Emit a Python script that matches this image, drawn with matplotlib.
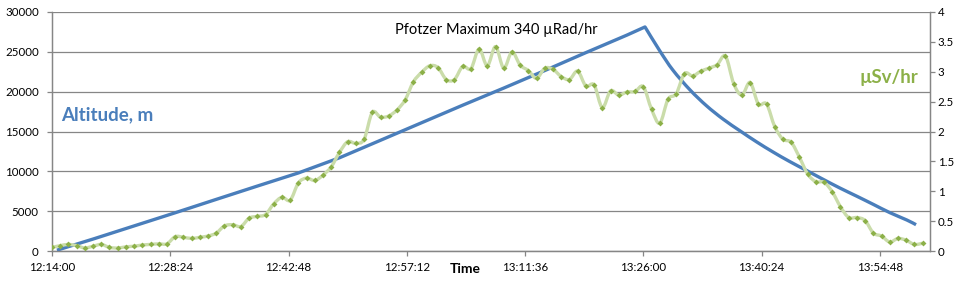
import matplotlib
matplotlib.use("Agg")
import matplotlib.pyplot as plt
from matplotlib.path import Path
from matplotlib.patches import PathPatch

plt.rcParams['font.family'] = ['Lato', 'DejaVu Sans']

# ---- data ----
# x: minutes after 12:14:00
tick_labels = ["12:14:00", "12:28:24", "12:42:48", "12:57:12", "13:11:36", "13:26:00", "13:40:24", "13:54:48"]
tick_minutes = [0, 14.4, 28.8, 43.2, 57.6, 72.0, 86.4, 100.8]

# ascent (balloon rising)
ascent_minutes = [0.6, 5, 10, 15, 20, 25, 30, 35, 40, 45, 50, 55, 60, 65, 70, 72.2]
ascent_alt_m = [100, 1500, 3150, 4800, 6480, 8150, 9800, 11700, 13900, 16100, 18300,
                20450, 22650, 24900, 27100, 28125]
# descent (after burst)
descent_minutes = [72.2, 74.0, 75.6, 77.7, 79.7, 81.7, 83.8, 85.8, 87.8, 89.8, 91.9,
                   93.9, 95.9, 98.0, 100.0, 102.0, 104.1, 105.2]
descent_alt_m = [28125, 25125, 22700, 20200, 18220, 16560, 15060, 13690, 12420, 11240,
                 10090, 8990, 7920, 6870, 5850, 4820, 3880, 3300]

rad_minutes = list(range(107))
rad_usv = [0.06, 0.09, 0.11, 0.09, 0.05, 0.08, 0.11, 0.06, 0.05, 0.07,
           0.08, 0.10, 0.11, 0.12, 0.12, 0.24, 0.23, 0.21, 0.23, 0.25,
           0.30, 0.42, 0.44, 0.41, 0.55, 0.58, 0.61, 0.79, 0.90, 0.85,
           1.14, 1.22, 1.18, 1.27, 1.41, 1.65, 1.83, 1.80, 1.87, 2.32,
           2.24, 2.26, 2.36, 2.53, 2.83, 2.99, 3.10, 3.07, 2.87, 2.87,
           3.09, 3.05, 3.38, 3.10, 3.42, 3.06, 3.33, 3.11, 3.02, 2.89,
           3.06, 3.04, 2.92, 2.87, 3.01, 2.76, 2.78, 2.40, 2.68, 2.61,
           2.66, 2.67, 2.75, 2.37, 2.14, 2.54, 2.63, 2.97, 2.93, 3.01,
           3.06, 3.12, 3.26, 2.80, 2.61, 2.82, 2.46, 2.46, 2.08, 1.87,
           1.82, 1.57, 1.29, 1.16, 1.15, 0.99, 0.74, 0.56, 0.56, 0.51,
           0.30, 0.25, 0.15, 0.21, 0.18, 0.11, 0.13]

left_ticks = [0, 5000, 10000, 15000, 20000, 25000, 30000]
right_ticks = [0, 0.5, 1, 1.5, 2, 2.5, 3, 3.5, 4]
right_labels = ["0", "0.5", "1", "1.5", "2", "2.5", "3", "3.5", "4"]

BLUE = "#4a7ebb"
GREEN = "#8cb048"
GREEN_LIGHT = "#cadcaa"
GRAY = "#868686"


def smooth_verts(xs, ys):
    n = len(xs)
    verts = [(xs[0], ys[0])]
    codes = [Path.MOVETO]
    for i in range(n - 1):
        p0 = i - 1 if i > 0 else i
        p3 = i + 2 if i + 2 < n else i + 1
        c1 = (xs[i] + (xs[i + 1] - xs[p0]) / 6.0, ys[i] + (ys[i + 1] - ys[p0]) / 6.0)
        c2 = (xs[i + 1] - (xs[p3] - xs[i]) / 6.0, ys[i + 1] - (ys[p3] - ys[i]) / 6.0)
        verts += [c1, c2, (xs[i + 1], ys[i + 1])]
        codes += [Path.CURVE4] * 3
    return verts, codes


fig = plt.figure(figsize=(9.66, 2.83), dpi=100)
ax = fig.add_axes([52 / 966, 1 - 251 / 283, (930 - 52) / 966, (251 - 12) / 283])
ax2 = ax.twinx()

ax.set_xlim(0, 106.9)
ax.set_ylim(0, 30000)
ax2.set_ylim(0, 4)

ax.set_yticks(left_ticks)
ax.set_yticklabels([str(v) for v in left_ticks])
ax.yaxis.grid(True, color=GRAY, linewidth=0.9)
ax.set_axisbelow(True)
ax.set_xticks(tick_minutes)
ax.set_xticklabels(tick_labels)

ax2.set_yticks(right_ticks)
ax2.set_yticklabels(right_labels)

for a in (ax, ax2):
    a.spines["top"].set_visible(False)
    for s in ("left", "right", "bottom"):
        a.spines[s].set_color(GRAY)
        a.spines[s].set_linewidth(0.9)
    a.tick_params(colors=GRAY, labelcolor="black", labelsize=8.3, length=3.5, width=0.9)
ax.tick_params(axis="y", pad=6)
ax.tick_params(axis="x", pad=4.5)
ax2.tick_params(axis="y", pad=2)

# altitude (blue): straight ascent, smooth descent
av, ac = smooth_verts(descent_minutes, descent_alt_m)
asc_verts = list(zip(ascent_minutes, ascent_alt_m))
verts = asc_verts + av[1:]
codes = [Path.MOVETO] + [Path.LINETO] * (len(asc_verts) - 1) + ac[1:]
ax.add_patch(PathPatch(Path(verts, codes), facecolor="none", edgecolor=BLUE,
                       linewidth=2.4, capstyle="butt", joinstyle="round", zorder=3))

# radiation (green, smoothed)
gv, gc = smooth_verts(rad_minutes, rad_usv)
ax2.add_patch(PathPatch(Path(gv, gc), facecolor="none", edgecolor=GREEN_LIGHT,
                        linewidth=2.4, zorder=2))
ax2.plot(rad_minutes, rad_usv, linestyle="none", marker="D", markersize=3.0,
         color=GREEN, markeredgewidth=0, zorder=3)

# texts
ax.text(1.05, 16375, "Altitude, m", color=BLUE, fontsize=13.5,
        fontweight="bold", ha="left", va="baseline")
ax2.text(101.9, 2.81, "\u00b5Sv/hr", color=GREEN, fontsize=13.5, fontweight="bold",
         ha="center", va="baseline")
fig.text(496 / 966, 1 - 34 / 283, "Pfotzer Maximum 340 \u00b5Rad/hr", fontsize=10.5,
         ha="center", va="baseline")
fig.text(465 / 966, 1 - 273 / 283, "Time", fontsize=10, fontweight="bold",
         ha="center", va="baseline")

fig.savefig("out.png", dpi=100)
